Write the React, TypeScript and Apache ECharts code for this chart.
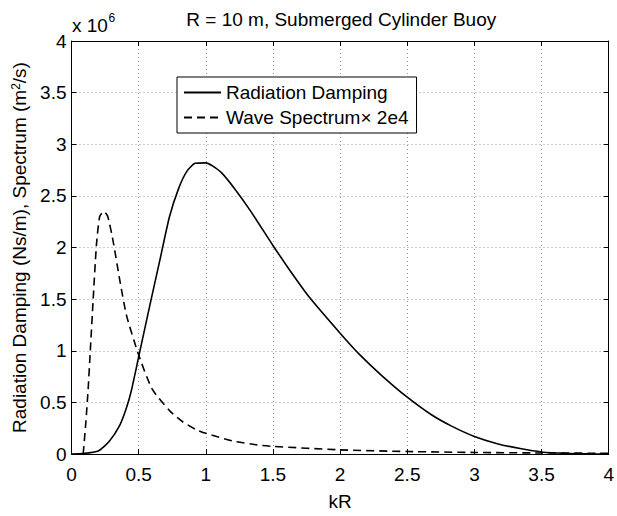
import React, { useEffect, useRef } from "react";
import * as echarts from "echarts";

// Radiation damping (in units of 1e6 Ns/m) vs kR
const dampingKR = [0, 0.08, 0.2, 0.28, 0.36, 0.41, 0.445, 0.5, 0.58, 0.66, 0.73, 0.8, 0.86, 0.92, 1.0, 1.05, 1.12, 1.22, 1.33, 1.5, 1.62, 1.77, 2.0, 2.14, 2.31, 2.5, 2.68, 2.83, 3.0, 3.17, 3.35, 3.5, 3.67, 3.85, 4.0];
const dampingVal = [0, 0.004, 0.03, 0.12, 0.28, 0.45, 0.61, 0.94, 1.42, 1.89, 2.3, 2.58, 2.74, 2.815, 2.82, 2.79, 2.72, 2.56, 2.36, 2.02, 1.79, 1.52, 1.17, 0.97, 0.76, 0.55, 0.38, 0.27, 0.17, 0.1, 0.05, 0.02, 0.006, 0.001, 0];

// Wave spectrum x 2e4 (in units of 1e6 m^2/s) vs kR
const spectrumKR = [0.087, 0.107, 0.124, 0.14, 0.161, 0.186, 0.21, 0.24, 0.27, 0.31, 0.36, 0.41, 0.5, 0.6, 0.73, 0.83, 0.93, 1.0, 1.2, 1.4, 1.5, 2.0, 2.5, 3.0, 3.5, 4.0];
const spectrumVal = [0, 0.31, 0.63, 1.0, 1.49, 2.03, 2.3, 2.35, 2.3, 2.06, 1.68, 1.34, 0.96, 0.63, 0.42, 0.31, 0.235, 0.2, 0.126, 0.085, 0.074, 0.04, 0.024, 0.015, 0.01, 0.007];

const seriesNames = ["Radiation Damping", "Wave Spectrum× 2e4"];
const titleText = "R = 10 m, Submerged Cylinder Buoy";
const xName = "kR";
const yName = "Radiation Damping (Ns/m), Spectrum (m{sup|2}/s)";

const FONT = "'Liberation Sans', Arial, Helvetica, sans-serif";

export default function App() {
  const ref = useRef<HTMLDivElement>(null);
  useEffect(() => {
    if (!ref.current) return;
    const chart = echarts.init(ref.current, null, { renderer: "svg" });
    const gridLeft = 71.5;
    const gridRight = 6;
    const gridTop = 41;
    const gridBottom = 50;
    const plotCenterX = gridLeft + (617 - gridLeft - gridRight) / 2;
    const axisCommon = {
      type: "value" as const,
      min: 0,
      max: 4,
      interval: 0.5,
      axisLine: { show: true, onZero: false, lineStyle: { color: "#000", width: 1 } },
      axisTick: { show: true, inside: true, length: 5, lineStyle: { color: "#000" } },
    };
    chart.setOption({
      animation: false,
      textStyle: { fontFamily: FONT, color: "#000" },
      grid: { left: gridLeft, right: gridRight, top: gridTop, bottom: gridBottom, containLabel: false },
      legend: {
        orient: "vertical",
        left: 177,
        top: 77,
        data: seriesNames,
        itemWidth: 37,
        itemHeight: 19,
        itemGap: 6,
        padding: [6, 8, 6, 6],
        backgroundColor: "#fff",
        borderColor: "#000",
        borderWidth: 1,
        itemStyle: { opacity: 0 },
        textStyle: { fontSize: 19, color: "#000", fontFamily: FONT, padding: [0, 0, 0, 0] },
      },
      xAxis: [
        {
          ...axisCommon,
          position: "bottom",
          name: xName,
          nameLocation: "middle",
          nameGap: 38,
          nameTextStyle: { fontSize: 19, color: "#000" },
          axisLabel: { fontSize: 19, color: "#000", margin: 11 },
          splitLine: { show: true, lineStyle: { color: "#999", type: [1, 3], width: 1 } },
        },
        {
          ...axisCommon,
          position: "top",
          axisLabel: { show: false },
          splitLine: { show: false },
        },
      ],
      yAxis: [
        {
          ...axisCommon,
          position: "left",
          name: yName,
          nameLocation: "middle",
          nameRotate: 90,
          nameGap: 41,
          nameTextStyle: {
            fontSize: 19,
            color: "#000",
            rich: { sup: { fontSize: 12, verticalAlign: "top", color: "#000", fontFamily: FONT } },
          },
          axisLabel: { fontSize: 19, color: "#000", margin: 5 },
          splitLine: { show: true, lineStyle: { color: "#999", type: [1, 3], width: 1 } },
        },
        {
          ...axisCommon,
          position: "right",
          axisLabel: { show: false },
          splitLine: { show: false },
        },
      ],
      series: [
        {
          name: seriesNames[0],
          type: "line",
          xAxisIndex: 0,
          yAxisIndex: 0,
          data: dampingKR.map((x, i) => [x, dampingVal[i]]),
          symbol: "none",
          smooth: 0.2,
          lineStyle: { color: "#000", width: 1.6, type: "solid" },
          itemStyle: { color: "#000" },
        },
        {
          name: seriesNames[1],
          type: "line",
          xAxisIndex: 0,
          yAxisIndex: 0,
          data: spectrumKR.map((x, i) => [x, spectrumVal[i]]),
          symbol: "none",
          smooth: 0.2,
          lineStyle: { color: "#000", width: 1.6, type: [8, 5] },
          itemStyle: { color: "#000" },
        },
      ],
      graphic: [
        {
          type: "text",
          x: plotCenterX,
          y: 19.5,
          style: {
            text: titleText,
            fontSize: 19,
            fontFamily: FONT,
            fill: "#000",
            align: "center",
            verticalAlign: "middle",
            textAlign: "center",
            textVerticalAlign: "middle",
          },
        },
        {
          type: "text",
          x: 72,
          y: 35,
          style: {
            text: "x 10",
            fontSize: 19,
            fontFamily: FONT,
            fill: "#000",
            align: "left",
            verticalAlign: "bottom",
            textAlign: "left",
            textVerticalAlign: "bottom",
          },
        },
        {
          type: "text",
          x: 108.5,
          y: 24,
          style: {
            text: "6",
            fontSize: 12,
            fontFamily: FONT,
            fill: "#000",
            align: "left",
            verticalAlign: "bottom",
            textAlign: "left",
            textVerticalAlign: "bottom",
          },
        },
      ],
    });
    return () => chart.dispose();
  }, []);
  return (
    <div
      ref={ref}
      style={{ position: "fixed", left: 0, top: 0, width: 617, height: 516, background: "#fff" }}
    />
  );
}
